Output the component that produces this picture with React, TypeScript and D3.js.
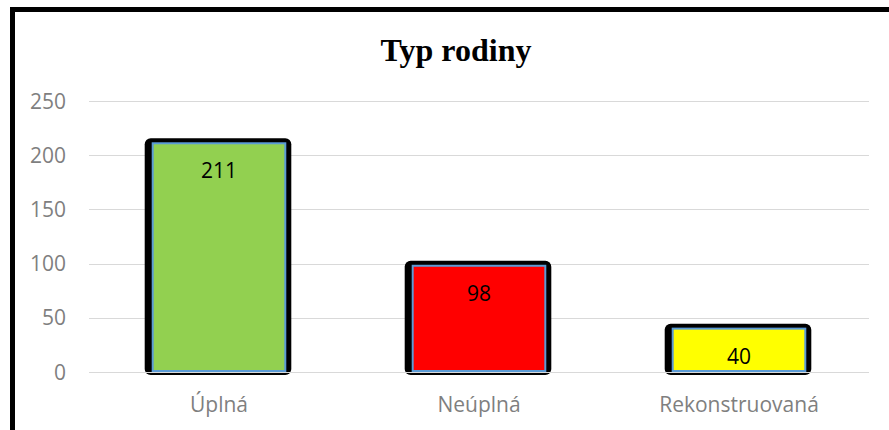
import { useEffect, useRef } from "react";
import * as d3 from "d3";

const categories = ["Úplná", "Neúplná", "Rekonstruovaná"];
const values = [211, 98, 40];
const barColors = ["#92d050", "#ff0000", "#ffff00"];
const yTicks = [0, 50, 100, 150, 200, 250];
const title = "Typ rodiny";

export default function App() {
  const ref = useRef<SVGSVGElement>(null);

  useEffect(() => {
    const width = 889;
    const height = 430;
    const margin = { top: 101, right: 20, bottom: 58, left: 89 };

    const svg = d3.select(ref.current);
    svg.selectAll("*").remove();

    svg.append("rect").attr("width", width).attr("height", height).attr("fill", "#fff");

    // outer frame (right and bottom edges fall outside the picture)
    svg.append("rect")
      .attr("x", 12.5).attr("y", 9.5)
      .attr("width", width + 20).attr("height", height + 20)
      .attr("fill", "none").attr("stroke", "#000").attr("stroke-width", 5);

    const xScale = d3.scaleBand().domain(categories).range([margin.left, width - margin.right]).paddingInner(0.49).paddingOuter(0.245);
    const yScale = d3.scaleLinear().domain([0, 250]).range([height - margin.bottom, margin.top]);

    // title
    svg.append("text")
      .attr("x", 456).attr("y", 61)
      .attr("text-anchor", "middle")
      .style("font-family", "'Liberation Serif', 'Times New Roman', serif")
      .style("font-weight", "bold")
      .style("font-size", "32px")
      .text(title);

    // grid
    svg.append("g").selectAll("line")
      .data(yTicks)
      .enter()
      .append("line")
      .attr("x1", margin.left).attr("x2", width - margin.right)
      .attr("y1", (d) => Math.round(yScale(d)) + 0.5)
      .attr("y2", (d) => Math.round(yScale(d)) + 0.5)
      .attr("stroke", "#d9d9d9").attr("stroke-width", 1);

    // y tick labels
    svg.append("g").selectAll("text")
      .data(yTicks)
      .enter()
      .append("text")
      .attr("x", 66).attr("y", (d) => yScale(d) + 7.5)
      .attr("text-anchor", "end")
      .attr("fill", "#7f7f7f")
      .style("font-family", "'Open Sans', sans-serif")
      .style("font-size", "21px")
      .text((d) => d);

    const data = categories.map((c, i) => ({ cat: c, value: values[i], color: barColors[i] }));
    const base = yScale(0);

    // black shadow behind bars
    svg.append("g").selectAll("rect")
      .data(data)
      .enter()
      .append("rect")
      .attr("x", (d) => xScale(d.cat)! - 8)
      .attr("y", (d) => yScale(d.value) - 5)
      .attr("width", xScale.bandwidth() + 14)
      .attr("height", (d) => base - yScale(d.value) + 8)
      .attr("rx", 6)
      .attr("fill", "#000");

    // underline below each bar
    svg.append("g").selectAll("line")
      .data(data)
      .enter()
      .append("line")
      .attr("x1", (d) => xScale(d.cat)! - 8)
      .attr("x2", (d) => xScale(d.cat)! + xScale.bandwidth() + 6)
      .attr("y1", base + 0.5).attr("y2", base + 0.5)
      .attr("stroke", "#d9d9d9").attr("stroke-width", 1);

    // bars
    svg.append("g").selectAll("rect")
      .data(data)
      .enter()
      .append("rect")
      .attr("x", (d) => xScale(d.cat)!)
      .attr("y", (d) => yScale(d.value))
      .attr("width", xScale.bandwidth())
      .attr("height", (d) => base - yScale(d.value) - 1)
      .attr("fill", (d) => d.color)
      .attr("stroke", "#5b9bd5")
      .attr("stroke-width", 2);

    // value labels
    svg.append("g").selectAll("text")
      .data(data)
      .enter()
      .append("text")
      .attr("x", (d) => xScale(d.cat)! + xScale.bandwidth() / 2)
      .attr("y", (d) => yScale(d.value) + 35)
      .attr("text-anchor", "middle")
      .attr("fill", "#000")
      .style("font-family", "'Open Sans', sans-serif")
      .style("font-size", "21px")
      .text((d) => d.value);

    // category labels
    svg.append("g").selectAll("text")
      .data(categories)
      .enter()
      .append("text")
      .attr("x", (d) => xScale(d)! + xScale.bandwidth() / 2)
      .attr("y", 412)
      .attr("text-anchor", "middle")
      .attr("fill", "#7f7f7f")
      .style("font-family", "'Open Sans', sans-serif")
      .style("font-size", "21px")
      .text((d) => d);
  }, []);

  return (
    <div style={{ position: "absolute", left: 0, top: 0 }}>
      <svg ref={ref} width={889} height={430} style={{ display: "block" }} />
    </div>
  );
}
